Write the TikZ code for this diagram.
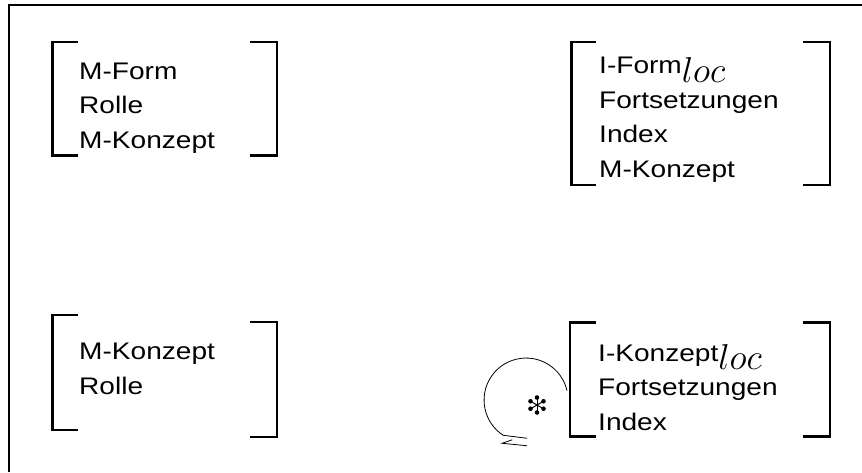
\RequirePackage{fix-cm}
\documentclass[tikz,border=0pt]{standalone}
\usepackage{fontspec}
\setmainfont{Liberation Sans}[FakeStretch=1.17]
\usepackage{tikz}
\tikzset{%
  rahmen/.style   = {line width=2.6pt},%
  klammer/.style  = {line width=2.8pt},%
  merkmal/.style  = {anchor=base west, align=left, inner sep=0pt,%
                     font=\fontsize{24}{34.5}\selectfont},%
  schleife/.style = {line width=0.8pt},%
  punkt/.style    = {circle,fill,inner sep=0pt,minimum size=4.6pt}%
}
\newcommand{\locidx}{\raisebox{-8.5pt}{\fontsize{36}{36}\selectfont$loc$}}

\begin{document}
\begin{tikzpicture}[x=1pt,y=-1pt]
	\useasboundingbox (0,0) rectangle (862,472);
	\draw[rahmen] (9,472) -- (9,5) -- (862,5);
	% oben links
	\node[merkmal] (mform) at (79,148) {M-Form\\Rolle\\M-Konzept};
	\draw[klammer] (78,42) -| (52.5,155.5) -- (78,155.5);
	\draw[klammer] (250,42) -| (277,155.5) -- (250,155.5);
	% oben rechts
	\node[merkmal] (iform) at (599,177) {I-Form\locidx\\Fortsetzungen\\Index\\M-Konzept};
	\draw[klammer] (596,42) -| (571.5,185) -- (596,185);
	\draw[klammer] (803,42) -| (830,185) -- (803,185);
	% unten links
	\node[merkmal] (mkonzept) at (79,394) {M-Konzept\\Rolle};
	\draw[klammer] (78,315) -| (52.5,430) -- (78,430);
	\draw[klammer] (250,322) -| (277,437) -- (250,437);
	% unten rechts
	\node[merkmal] (ikonzept) at (598,430) {I-Konzept\locidx\\Fortsetzungen\\Index};
	\draw[klammer] (596,322.5) -| (570,436.5) -- (596,436.5);
	\draw[klammer] (803,322.5) -| (830,436.5) -- (803,436.5);
	% Schleife
	\coordinate (loopstart) at (567,390.6);
	\coordinate (stern) at (537,405);
	\draw[schleife] (loopstart) arc[start angle=-13, end angle=-237, radius=42]
		coordinate (loopend);
	\draw[schleife] (loopend) -- ++(24,3);
	\draw[schleife] ([xshift=9pt,yshift=-4.5pt]loopend) -- ++(-10,3.5) -- ++(25,2.5);
	\foreach \w in {30,90,...,330}
		\draw[line width=1pt] (stern) -- ++(\w:7.5) node[punkt] {};
\end{tikzpicture}
\end{document}
